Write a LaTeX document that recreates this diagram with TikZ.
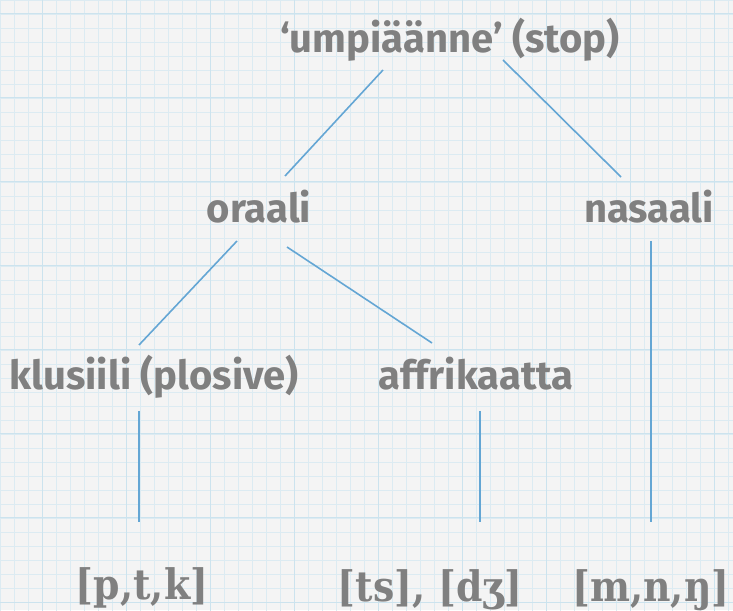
\documentclass[tikz,border=0pt]{standalone}
\usepackage{fontspec}
\newfontfamily\labelfont{Fira Sans}
\newfontfamily\ipafont{DejaVu Serif Condensed}[BoldFont=DejaVu Serif Condensed Bold]
\definecolor{paper}{HTML}{F4F4F4}
\definecolor{gridminor}{HTML}{DCEBF2}
\definecolor{gridmajor}{HTML}{CCE3EE}
\definecolor{inkgray}{HTML}{808080}
\definecolor{linkblue}{HTML}{64A6D4}
\begin{document}
\begin{tikzpicture}[x=1pt,y=1pt,
    term/.style={inner sep=0pt,anchor=base,text=inkgray,
      font=\labelfont\bfseries\fontsize{40}{44}\selectfont},
    phones/.style={inner sep=0pt,anchor=base,text=inkgray,
      font=\ipafont\bfseries\fontsize{42}{46}\selectfont},
    link/.style={draw=linkblue,line width=1.6pt}]
    \useasboundingbox (0,0) rectangle (733,610);
    \fill[paper] (0,0) rectangle (733,610);
    % graph paper
    \begin{scope}
    \clip (0,0) rectangle (733,610);
    \draw[gridminor,line width=0.8pt,shift={(0,8)},step=14pt] (0,-14) grid (733,602);
    \draw[gridmajor,line width=1pt,shift={(42,8)},step=84pt] (-42,-14) grid (691,602);
    \end{scope}
    % terms
    \node[term] (stop) at (450,557) {‘umpiäänne’ (stop)};
    \node[term] (oraali) at (259,387) {oraali};
    \node[term] (nasaali) at (649,387) {nasaali};
    \node[term] (klusiili) at (154,220) {klusiili (plosive)};
    \node[term] (affrikaatta) at (476,220) {affrikaatta};
    \node[phones] (ptk) at (142,10) {[p,t,k]};
    \node[phones] (tsdz) at (430,9) {[ts], [dʒ]};
    \node[phones] (mnng) at (651,9) {[m,n,ŋ]};
    % connectors
    \draw[link] ([shift={(-67,-17)}]stop.base) -- ([shift={(26,47)}]oraali.base);
    \draw[link] ([shift={(53,-7)}]stop.base) -- ([shift={(-28,46)}]nasaali.base);
    \draw[link] ([shift={(-22,-18)}]oraali.base) -- ([shift={(-15,45)}]klusiili.base);
    \draw[link] ([shift={(28,-24)}]oraali.base) -- ([shift={(-44,47)}]affrikaatta.base);
    \draw[link] ([shift={(-15,-21)}]klusiili.base) -- ([shift={(-3,78)}]ptk.base);
    \draw[link] ([shift={(4,-21)}]affrikaatta.base) -- ([shift={(50,79)}]tsdz.base);
    \draw[link] ([shift={(2,-18)}]nasaali.base) -- ([shift={(0,79)}]mnng.base);
\end{tikzpicture}
\end{document}
